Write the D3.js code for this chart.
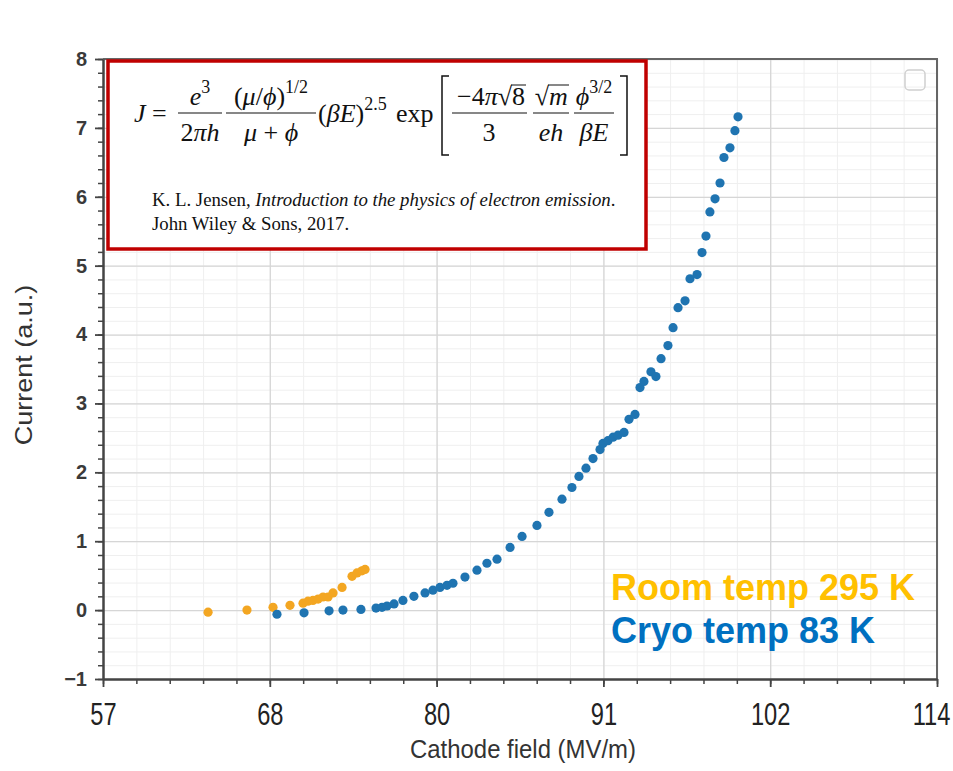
<!DOCTYPE html>
<html>
<head>
<meta charset="utf-8">
<script src="https://cdn.jsdelivr.net/npm/d3@7"></script>
<style>
body{margin:0;background:#fff}
</style>
</head>
<body>
<svg id="chart" width="953" height="771"></svg>
<script>
// room temperature run (295 K)
var roomField = [64.18, 66.84, 68.62, 69.78, 70.67, 71.01, 71.35, 71.70, 72.04, 72.38, 72.72, 73.34, 74.02, 74.36, 74.70, 74.91]
var roomCurrent = [-0.03, 0.0, 0.04, 0.07, 0.10, 0.13, 0.14, 0.16, 0.19, 0.19, 0.25, 0.33, 0.49, 0.54, 0.57, 0.59]

// cryo run (83 K)
var cryoField = [68.89, 70.74, 72.45, 73.40, 74.63, 75.66, 76.07, 76.41, 76.89, 77.50, 78.25, 79.01, 79.55, 80.03, 80.51, 80.92,
  81.74, 82.56, 83.24, 83.93, 84.82, 85.64, 86.66, 87.48, 88.37, 89.05, 89.53, 90.01, 90.49, 90.97, 91.17, 91.51,
  91.86, 92.20, 92.61, 92.95, 93.36, 93.70, 93.97, 94.45, 94.79, 95.14, 95.61, 95.96, 96.30, 96.78, 97.12, 97.60,
  97.94, 98.21, 98.48, 98.83, 99.17, 99.44, 99.85, 100.19, 100.40]
var cryoCurrent = [-0.06, -0.04, -0.01, 0.0, 0.01, 0.03, 0.04, 0.06, 0.09, 0.14, 0.20, 0.25, 0.29, 0.33, 0.36, 0.39,
  0.48, 0.58, 0.68, 0.74, 0.91, 1.07, 1.23, 1.42, 1.61, 1.78, 1.94, 2.06, 2.20, 2.33, 2.42, 2.46,
  2.51, 2.54, 2.58, 2.77, 2.84, 3.23, 3.32, 3.46, 3.39, 3.65, 3.84, 4.10, 4.39, 4.49, 4.81, 4.87,
  5.19, 5.43, 5.78, 5.97, 6.20, 6.57, 6.71, 6.96, 7.16]

var xTickValues = [57, 68.4, 79.8, 91.2, 102.6, 114]
var xTickLabels = ["57", "68", "80", "91", "102", "114"]
var yTickValues = [-1, 0, 1, 2, 3, 4, 5, 6, 7, 8]
var yTickLabels = ["\u22121", "0", "1", "2", "3", "4", "5", "6", "7", "8"]
var legendLabels = ["Room temp 295 K", "Cryo temp 83 K"]

// plot area (window.top is reserved, so prefixed names)
var pL = 103, pR = 937, pT = 59, pB = 679;
var roomColor = "#f3a622", cryoColor = "#1f74b1";

var svg = d3.select("#chart");

var x = d3.scaleLinear().domain([57, 114]).range([pL, pR]);
var y = d3.scaleLinear().domain([-1, 8]).range([pB, pT]);

var xMinor = d3.range(0, 26).map(function(i){ return 57 + i * 2.28; });
var yMinor = d3.range(0, 46).map(function(i){ return -1 + i * 0.2; });

// grid, minor first
svg.append("g").attr("transform", "translate(0," + pB + ")")
  .call(d3.axisBottom(x).tickValues(xMinor).tickSize(-(pB - pT)).tickFormat(""))
  .call(function(g){ g.select(".domain").remove(); g.selectAll("line").attr("stroke", "#efefef"); });
svg.append("g").attr("transform", "translate(" + pL + ",0)")
  .call(d3.axisLeft(y).tickValues(yMinor).tickSize(-(pR - pL)).tickFormat(""))
  .call(function(g){ g.select(".domain").remove(); g.selectAll("line").attr("stroke", "#efefef"); });
svg.append("g").attr("transform", "translate(0," + pB + ")")
  .call(d3.axisBottom(x).tickValues(xTickValues).tickSize(-(pB - pT)).tickFormat(""))
  .call(function(g){ g.select(".domain").remove(); g.selectAll("line").attr("stroke", "#d6d6d6").attr("stroke-width", 1.3); });
svg.append("g").attr("transform", "translate(" + pL + ",0)")
  .call(d3.axisLeft(y).tickValues(yTickValues).tickSize(-(pR - pL)).tickFormat(""))
  .call(function(g){ g.select(".domain").remove(); g.selectAll("line").attr("stroke", "#d6d6d6").attr("stroke-width", 1.3); });

// frame top / right
svg.append("path")
  .attr("d", "M" + pL + "," + pT + "H" + pR + "V" + pB)
  .attr("fill", "none").attr("stroke", "#666").attr("stroke-width", 2);

// small legend box placeholder at top-right
svg.append("rect").attr("x", 905).attr("y", 70).attr("width", 20).attr("height", 20).attr("rx", 4)
  .attr("fill", "none").attr("stroke", "#d0d0d0").attr("stroke-width", 1.5);

// points
svg.append("g").selectAll("circle").data(roomField).enter().append("circle")
  .attr("cx", function(d){ return x(d); })
  .attr("cy", function(d, i){ return y(roomCurrent[i]); })
  .attr("r", 4.6).attr("fill", roomColor);
svg.append("g").selectAll("circle").data(cryoField).enter().append("circle")
  .attr("cx", function(d){ return x(d); })
  .attr("cy", function(d, i){ return y(cryoCurrent[i]); })
  .attr("r", 4.6).attr("fill", cryoColor);

// axes with ticks
var axisColor = "#444";
svg.append("g").attr("transform", "translate(0," + pB + ")")
  .call(d3.axisBottom(x).tickValues(xMinor).tickSize(5).tickFormat(""))
  .call(function(g){ g.select(".domain").remove(); g.selectAll("line").attr("stroke", axisColor).attr("stroke-width", 1.5); });
svg.append("g").attr("transform", "translate(" + pL + ",0)")
  .call(d3.axisLeft(y).tickValues(yMinor).tickSize(5).tickFormat(""))
  .call(function(g){ g.select(".domain").remove(); g.selectAll("line").attr("stroke", axisColor).attr("stroke-width", 1.5); });

var xAxis = svg.append("g").attr("transform", "translate(0," + pB + ")")
  .call(d3.axisBottom(x).tickValues(xTickValues).tickSize(8).tickSizeOuter(0)
    .tickFormat(function(d, i){ return xTickLabels[i]; }));
xAxis.select(".domain").attr("stroke", axisColor).attr("stroke-width", 2.5);
xAxis.selectAll("line").attr("stroke", axisColor).attr("stroke-width", 1.8);
xAxis.selectAll("text")
  .attr("y", 0).attr("dy", null)
  .attr("transform", function(d, i){
    // last label sits a little inside the page edge, as in the original
    var shift = i === xTickLabels.length - 1 ? -6 : 0;
    return "translate(" + shift + ",46) scale(0.74,1)";
  })
  .attr("font-family", "'Liberation Sans', Arial, sans-serif")
  .attr("font-size", 32).attr("fill", "#222");

var yAxis = svg.append("g").attr("transform", "translate(" + pL + ",0)")
  .call(d3.axisLeft(y).tickValues(yTickValues).tickSize(8).tickSizeOuter(0)
    .tickFormat(function(d, i){ return yTickLabels[i]; }));
yAxis.select(".domain").attr("stroke", axisColor).attr("stroke-width", 2.5);
yAxis.selectAll("line").attr("stroke", axisColor).attr("stroke-width", 1.8);
yAxis.selectAll("text")
  .attr("x", -16)
  .attr("font-family", "'Liberation Sans', Arial, sans-serif")
  .attr("font-weight", "bold")
  .attr("font-size", 20).attr("fill", "#3a3a3a");

// axis titles
svg.append("text")
  .attr("transform", "translate(523,758) scale(0.92,1)")
  .attr("text-anchor", "middle")
  .attr("font-family", "'Liberation Sans', Arial, sans-serif")
  .attr("font-size", 26).attr("fill", "#333")
  .text("Cathode field (MV/m)");
svg.append("text")
  .attr("transform", "translate(32,365) rotate(-90) scale(1,0.87)")
  .attr("text-anchor", "middle")
  .attr("font-family", "'Liberation Sans', Arial, sans-serif")
  .attr("font-size", 27).attr("fill", "#333")
  .text("Current (a.u.)");

// legend text
svg.append("text").attr("x", 611).attr("y", 600)
  .attr("font-family", "'Liberation Sans', Arial, sans-serif").attr("font-weight", "bold")
  .attr("font-size", 36).attr("fill", "#ffc000").text(legendLabels[0]);
svg.append("text").attr("x", 611).attr("y", 643)
  .attr("font-family", "'Liberation Sans', Arial, sans-serif").attr("font-weight", "bold")
  .attr("font-size", 36).attr("fill", "#0070c0").text(legendLabels[1]);

// formula box
svg.append("rect").attr("x", 108).attr("y", 61).attr("width", 538).attr("height", 188)
  .attr("fill", "#fff").attr("stroke", "#c00000").attr("stroke-width", 3.5);

var fx = svg.append("g")
  .attr("font-family", "'Liberation Serif', 'Times New Roman', serif")
  .attr("font-size", 26).attr("fill", "#111");

// pieces: [text, italic?, sup?]
function mtext(px, py, anchor, pieces){
  var t = fx.append("text").attr("x", px).attr("y", py).attr("text-anchor", anchor);
  var up = false;
  pieces.forEach(function(p){
    var s = t.append("tspan").text(p[0]);
    if (p[1]) s.attr("font-style", "italic");
    if (p[2] && !up) { s.attr("dy", -12).attr("font-size", 18); up = true; }
    else if (p[2]) { s.attr("font-size", 18); }
    else if (up) { s.attr("dy", 12); up = false; }
  });
  return t;
}
function bar(x1, x2){
  fx.append("line").attr("x1", x1).attr("x2", x2).attr("y1", 113).attr("y2", 113)
    .attr("stroke", "#111").attr("stroke-width", 1.1);
}

mtext(134, 122, "start", [["J", true], [" = ", false]]);
mtext(200, 105, "middle", [["e", true], ["3", false, true]]);
mtext(200, 141, "middle", [["2", false], ["\u03c0", true], ["h", true]]);
bar(178, 222);
mtext(271, 105, "middle", [["(", false], ["\u03bc", true], ["/", false], ["\u03d5", true], [")", false], ["1/2", false, true]]);
mtext(271, 141, "middle", [["\u03bc", true], [" + ", false], ["\u03d5", true]]);
bar(226, 316);
mtext(318, 122, "start", [["(", false], ["\u03b2", true], ["E", true], [")", false], ["2.5", false, true]]);
mtext(396, 122, "start", [["exp", false]]);

fx.append("path").attr("d", "M449,76H442V155H449").attr("fill", "none").attr("stroke", "#111").attr("stroke-width", 1.5);
fx.append("path").attr("d", "M620,76H627V155H620").attr("fill", "none").attr("stroke", "#111").attr("stroke-width", 1.5);

mtext(512, 105, "end", [["\u22124", false], ["\u03c0", true], ["\u221a", false]]);
mtext(512, 105, "start", [["8", false]]);
fx.append("line").attr("x1", 511).attr("x2", 526).attr("y1", 85).attr("y2", 85).attr("stroke", "#111").attr("stroke-width", 1);
mtext(489, 141, "middle", [["3", false]]);
bar(452, 527);

mtext(549, 105, "end", [["\u221a", false]]);
mtext(549, 105, "start", [["m", true]]);
fx.append("line").attr("x1", 548).attr("x2", 569).attr("y1", 85).attr("y2", 85).attr("stroke", "#111").attr("stroke-width", 1);
mtext(551, 141, "middle", [["e", true], ["h", true]]);
bar(533, 569);

mtext(594, 105, "middle", [["\u03d5", true], ["3/2", false, true]]);
mtext(594, 141, "middle", [["\u03b2", true], ["E", true]]);
bar(574, 614);

var cite = fx.append("text").attr("x", 152).attr("y", 206).attr("font-size", 18.8);
cite.append("tspan").text("K. L. Jensen, ");
cite.append("tspan").attr("font-style", "italic").text("Introduction to the physics of electron emission");
cite.append("tspan").text(".");
fx.append("text").attr("x", 152).attr("y", 230).attr("font-size", 18.8).text("John Wiley & Sons, 2017.");
</script>
</body>
</html>
